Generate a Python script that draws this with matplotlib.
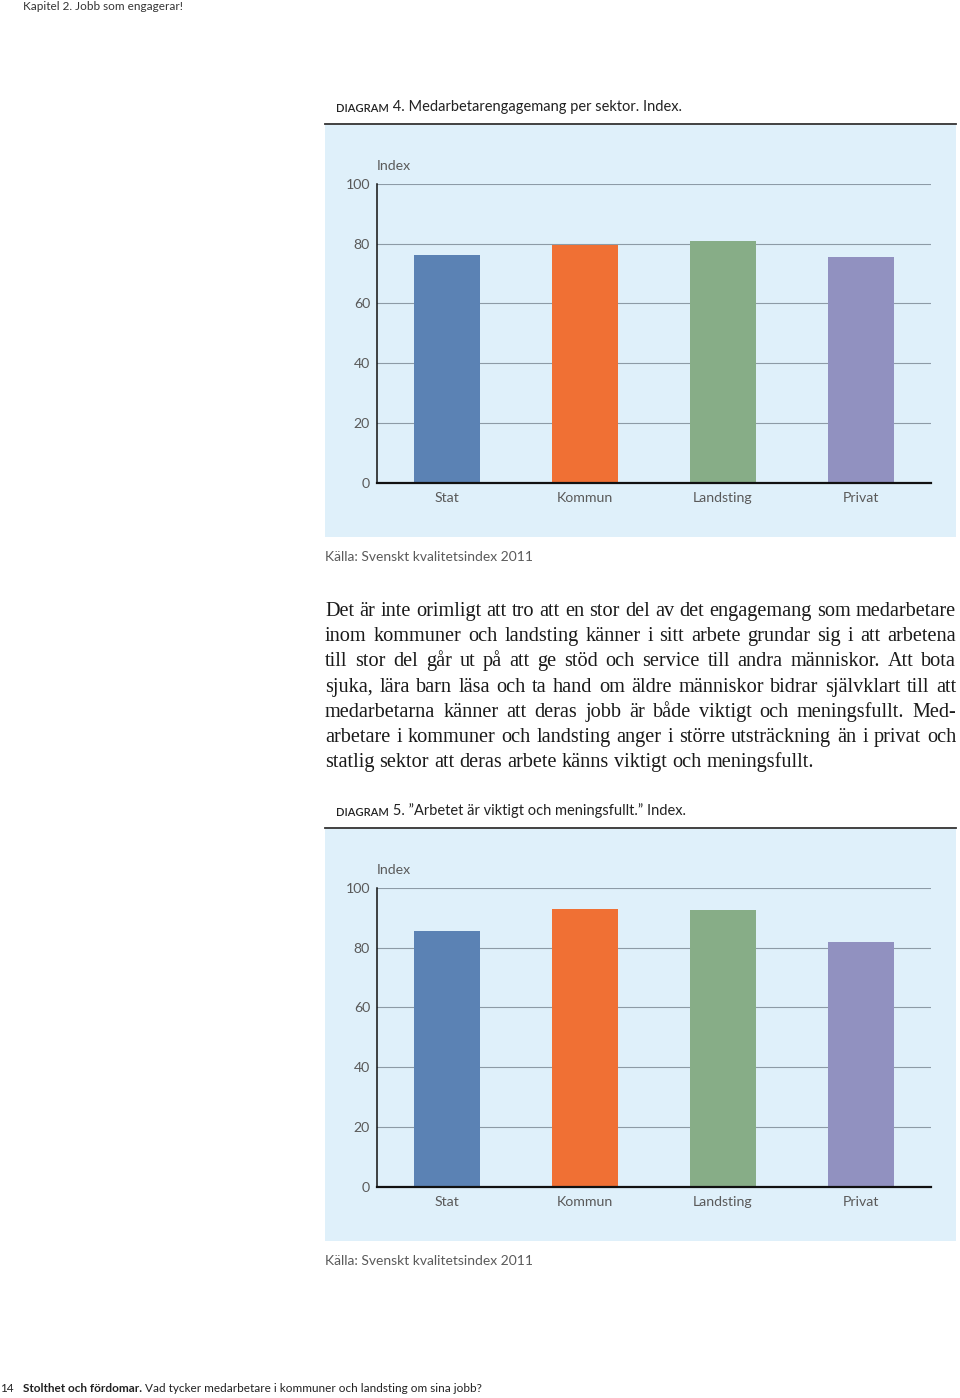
import matplotlib
matplotlib.use("Agg")
import matplotlib.pyplot as plt
from matplotlib.patches import Rectangle
from matplotlib.lines import Line2D

W, H = 960, 1398

# ---- data ----
categories = ["Stat", "Kommun", "Landsting", "Privat"]
engagemang = [76.1, 79.7, 80.9, 75.5]
viktigt = [85.5, 93.0, 92.8, 81.8]
bar_colors = ["#5b82b4", "#f07034", "#87ad87", "#9191c0"]
yticks = [0, 20, 40, 60, 80, 100]

title4 = "Medarbetarengagemang per sektor. Index."
title5 = "\u201dArbetet är viktigt och meningsfullt.\u201d Index."
source = "Källa: Svenskt kvalitetsindex 2011"

body_lines = [
    "Det är inte orimligt att tro att en stor del av det engagemang som medarbetare",
    "inom kommuner och landsting känner i sitt arbete grundar sig i att arbetena",
    "till stor del går ut på att ge stöd och service till andra människor. Att bota",
    "sjuka, lära barn läsa och ta hand om äldre människor bidrar självklart till att",
    "medarbetarna känner att deras jobb är både viktigt och meningsfullt. Med-",
    "arbetare i kommuner och landsting anger i större utsträckning än i privat och",
    "statlig sektor att deras arbete känns viktigt och meningsfullt.",
]

SANS = ["Lato", "DejaVu Sans"]
SERIF = ["Liberation Serif", "DejaVu Serif"]
GRAY = "#5a5a5a"


def fx(x):
    return x / W


def fy(y):
    return 1 - y / H


fig = plt.figure(figsize=(W / 100, H / 100), dpi=100)
fig.patch.set_facecolor("white")
renderer = fig.canvas.get_renderer()


def text_width(s, **kw):
    t = fig.text(0, 0, s, **kw)
    w = t.get_window_extent(renderer).width
    t.remove()
    return w


def diagram(top, number, title, values):
    # title with small caps label
    cap_kw = dict(fontsize=8, family=SANS, color="#222222", fontweight="semibold")
    fig.text(fx(336), fy(top - 16), "DIAGRAM", va="center", **cap_kw)
    w = text_width("DIAGRAM", **cap_kw)
    fig.text(fx(336 + w), fy(top - 17), f" {number}. {title}", va="center",
             fontsize=10.5, family=SANS, color="#222222")

    # rule and panel
    fig.add_artist(Line2D([fx(325), fx(956)], [fy(top), fy(top)],
                          color="#333333", lw=1.3, transform=fig.transFigure))
    fig.add_artist(Rectangle((fx(325), fy(top + 413)), 631 / W, 412 / H,
                             facecolor="#dff0fa", edgecolor="none",
                             transform=fig.transFigure, zorder=0))

    ax = fig.add_axes([fx(377), fy(top + 358.5), 554 / W, 298.4 / H])
    ax.set_facecolor("none")
    ax.bar(range(len(categories)), values, width=0.48, color=bar_colors, zorder=3)
    ax.set_xlim(-0.51, 3.51)
    ax.set_ylim(0, 100)
    ax.set_yticks(yticks)
    ax.set_xticks(range(len(categories)))
    ax.set_xticklabels(categories)
    ax.yaxis.grid(True, color="#8d9ba6", lw=0.8, zorder=1)
    ax.set_axisbelow(True)
    for s in ["top", "right"]:
        ax.spines[s].set_visible(False)
    ax.spines["left"].set_color("#111111")
    ax.spines["left"].set_linewidth(1.1)
    ax.spines["bottom"].set_color("#111111")
    ax.spines["bottom"].set_linewidth(1.6)
    ax.spines["bottom"].set_zorder(4)
    ax.tick_params(axis="both", length=0, labelsize=10.2, labelcolor=GRAY)
    ax.tick_params(axis="y", pad=5)
    ax.tick_params(axis="x", pad=7)
    for lab in ax.get_xticklabels() + ax.get_yticklabels():
        lab.set_family(SANS)
    ax.text(0, 1.061, "Index", transform=ax.transAxes, ha="left", va="center",
            fontsize=10.2, family=SANS, color=GRAY)

    fig.text(fx(325), fy(top + 433), source, va="center",
             fontsize=10, family=SANS, color=GRAY)


# header and footer
fig.text(fx(23), fy(6), "Kapitel 2. Jobb som engagerar!", va="center",
         fontsize=8.5, family=SANS, color="#333333")
fig.text(fx(0), fy(1388), "14", va="center", fontsize=8.5, family=SANS, color="#222222")
fkw = dict(fontsize=8.5, family=SANS, color="#222222")
fig.text(fx(23), fy(1388), "Stolthet och fördomar.", va="center", fontweight="bold", **fkw)
bw = text_width("Stolthet och fördomar.", fontweight="bold", **fkw)
fig.text(fx(23 + bw), fy(1388), " Vad tycker medarbetare i kommuner och landsting om sina jobb?",
         va="center", **fkw)

diagram(124, 4, title4, engagemang)
diagram(828, 5, title5, viktigt)

# justified body text; size chosen so the tightest line nearly fills the column
x0, x1 = 325, 956
base = dict(fontsize=13, family=SERIF, color="#1a1a1a")
natural = text_width(body_lines[0], **base)
body_kw = dict(base, fontsize=13 * (x1 - x0 - 4) / natural)
for i, line in enumerate(body_lines):
    yb = 616 + i * 25.2
    words = line.split()
    widths = [text_width(wd, **body_kw) for wd in words]
    if i < len(body_lines) - 1:
        gap = (x1 - x0 - sum(widths)) / (len(words) - 1)
    else:
        gap = text_width("a b", **body_kw) - text_width("ab", **body_kw)
    x = x0
    for wd, ww in zip(words, widths):
        fig.text(fx(x), fy(yb), wd, va="baseline", ha="left", **body_kw)
        x += ww + gap

fig.savefig("out.png", dpi=100)
